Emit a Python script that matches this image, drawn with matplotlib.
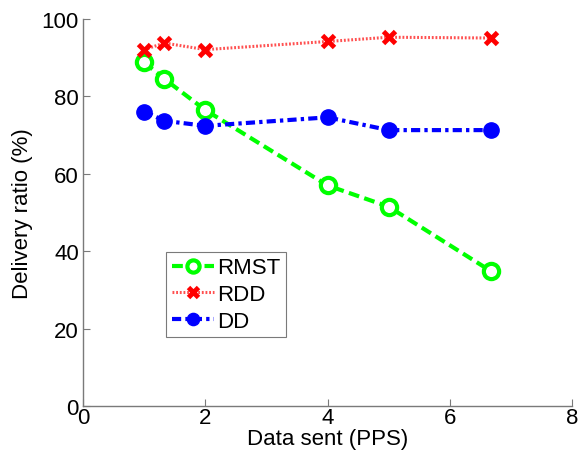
import matplotlib
matplotlib.use("Agg")
import matplotlib.pyplot as plt

# Data sent rate (packets per second)
pps = [1.0, 1.333, 2.0, 4.0, 5.0, 6.667]

# Delivery ratio (%) per scheme
rmst = [88.8, 84.5, 76.5, 57.0, 51.5, 34.9]
rdd = [92.1, 93.8, 92.1, 94.2, 95.3, 95.1]
dd = [76.1, 73.7, 72.4, 74.6, 71.3, 71.3]

plt.rcParams['font.family'] = ['Liberation Sans', 'DejaVu Sans']

fig = plt.figure(figsize=(5.82, 4.64), dpi=100)
ax = fig.add_axes([0.1426, 0.1228, 0.8404, 0.834])

ax.plot(pps, rmst, linestyle=(0, (2.6, 1.3)), color='#00ff00', linewidth=3,
        marker='o', markersize=11, markerfacecolor='white',
        markeredgecolor='#00ff00', markeredgewidth=3, label='RMST')
ax.plot(pps, rdd, linestyle=(0, (0.6, 0.6)), color='#ff5050', linewidth=2.2,
        marker='x', markersize=9, markeredgecolor='#ff0000',
        markeredgewidth=3.5, label='RDD')
ax.plot(pps, dd, linestyle=(0, (2.2, 1.0, 0.8, 1.0)), color='#0000ff',
        linewidth=3, marker='o', markersize=11, markerfacecolor='#0000ff',
        markeredgecolor='#0000ff', label='DD')

ax.set_xlim(0, 8)
ax.set_ylim(0, 100)
ax.set_xticks([0, 2, 4, 6, 8])
ax.set_yticks([0, 20, 40, 60, 80, 100])

for side in ('top', 'right'):
    ax.spines[side].set_visible(False)
for side in ('left', 'bottom'):
    ax.spines[side].set_color('#7a7a7a')
    ax.spines[side].set_linewidth(1.0)

ax.tick_params(direction='in', length=5, width=0.8, color='#7a7a7a',
               labelsize=16, labelcolor='black')
ax.tick_params(axis='x', pad=1)
ax.tick_params(axis='y', pad=3)

ax.set_xlabel('Data sent (PPS)', fontsize=16, labelpad=0)
ax.set_ylabel('Delivery ratio (%)', fontsize=16, labelpad=6)

leg = ax.legend(loc='lower left', bbox_to_anchor=(0.17, 0.178),
                fontsize=16, fancybox=False, framealpha=1,
                edgecolor='#7a7a7a', handlelength=1.9, handletextpad=0.15,
                borderpad=0.25, labelspacing=0.25, borderaxespad=0,
                markerscale=0.8)
leg.get_frame().set_linewidth(0.8)

fig.savefig('out.png', dpi=100)
